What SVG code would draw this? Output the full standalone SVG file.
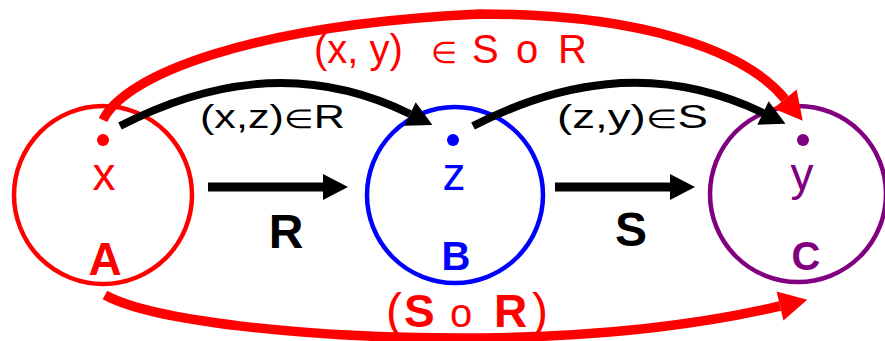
<svg xmlns="http://www.w3.org/2000/svg" width="885" height="341" viewBox="0 0 885 341">
<style>
text{font-family:"Liberation Sans",Arial,sans-serif}
.ring{fill:none;stroke-width:4.5}
.bold{font-weight:bold}
.red{fill:#ff0000}.blue{fill:#0000ff}.purple{fill:#800080}.blk{fill:#000}
.redarc{fill:none;stroke:#ff0000;stroke-width:9.5;marker-end:url(#hr)}
.blkarc{fill:none;stroke:#000;stroke-width:8;marker-end:url(#hb)}
.elem{font-size:26px}
</style>
<defs>
<marker id="hr" markerUnits="userSpaceOnUse" markerWidth="32" markerHeight="32" refX="0" refY="15" orient="auto" overflow="visible">
<path d="M0,0 L28,15 L0,30 z" fill="#ff0000"/>
</marker>
<marker id="hb" markerUnits="userSpaceOnUse" markerWidth="30" markerHeight="30" refX="0" refY="13" orient="auto" overflow="visible">
<path d="M0,0 L25,13 L0,26 z" fill="#000"/>
</marker>
</defs>
<g id="nodeA">
<circle class="ring" cx="103" cy="195" r="89" stroke="#ff0000"/>
<circle cx="103" cy="140" r="6" fill="#ff0000"/>
<text x="104" y="190" font-size="46" text-anchor="middle" class="red">x</text>
<text x="105" y="275" font-size="46" text-anchor="middle" class="bold red">A</text>
</g>
<g id="nodeB">
<circle class="ring" cx="455" cy="195" r="88" stroke="#0000ff"/>
<circle cx="453" cy="140" r="6" fill="#0000ff"/>
<text x="454" y="190" font-size="46" text-anchor="middle" class="blue">z</text>
<text x="456" y="270" font-size="40" text-anchor="middle" class="bold blue">B</text>
</g>
<g id="nodeC">
<circle class="ring" cx="798" cy="194" r="88" stroke="#800080"/>
<circle cx="803" cy="140" r="6" fill="#800080"/>
<text x="802" y="190" font-size="46" text-anchor="middle" class="purple">y</text>
<text x="806" y="270" font-size="40" text-anchor="middle" class="bold purple">C</text>
</g>
<g id="connectors">
<line x1="208" y1="187" x2="323" y2="187" stroke="#000" stroke-width="9" marker-end="url(#hb)"/>
<line x1="555" y1="187" x2="670" y2="187" stroke="#000" stroke-width="9" marker-end="url(#hb)"/>
<path class="blkarc" d="M120,126 C200,85 300,60 410,114"/>
<path class="blkarc" d="M473,126 C553,85 653,60 763,113"/>
<path class="redarc" d="M103,120 C125,75 250,25 480,14 C640,14 745,50 785,99"/>
<path class="redarc" d="M105,295 C150,320 300,338 460,338 C620,338 720,320 780,306"/>
</g>
<g id="labels">
<text x="286" y="248" font-size="48" text-anchor="middle" class="bold blk">R</text>
<text x="631" y="246" font-size="48" text-anchor="middle" class="bold blk">S</text>
<text x="200" y="128" font-size="33" textLength="145" lengthAdjust="spacingAndGlyphs" class="blk">(x,z)<tspan class="elem">∈</tspan>R</text>
<text x="557" y="128" font-size="33" textLength="151" lengthAdjust="spacingAndGlyphs" class="blk">(z,y)<tspan class="elem">∈</tspan>S</text>
<text y="63" font-size="40" class="red"><tspan x="314">(x, y)</tspan><tspan x="431" font-size="30">∈</tspan><tspan x="472">S</tspan><tspan x="516">o</tspan><tspan x="558">R</tspan></text>
<text y="327" class="red"><tspan x="386" font-size="48">(</tspan><tspan x="404" font-size="46" font-weight="bold">S</tspan><tspan x="450" font-size="40">o</tspan><tspan x="494" font-size="46" font-weight="bold">R</tspan><tspan x="532" font-size="48">)</tspan></text>
</g>
</svg>
